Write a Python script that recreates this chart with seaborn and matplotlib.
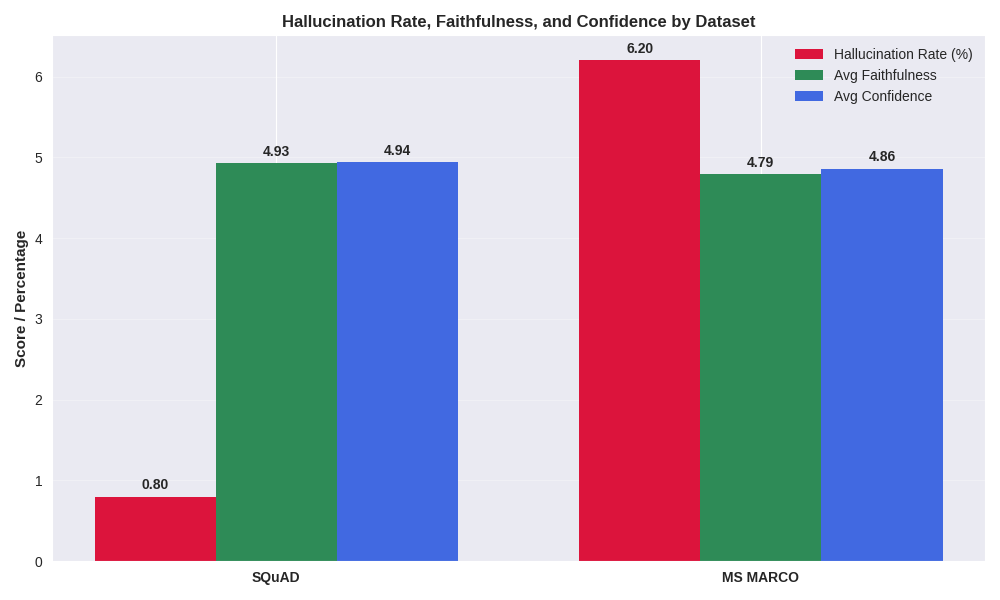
import pandas as pd
import seaborn as sns
import matplotlib
matplotlib.use("Agg")
import matplotlib.pyplot as plt

# --- DATA ---
datasets = ["SQuAD", "MS MARCO"]
metrics = ["Hallucination Rate (%)", "Avg Faithfulness", "Avg Confidence"]
hallucination_rate = [0.80, 6.20]
avg_faithfulness = [4.93, 4.79]
avg_confidence = [4.94, 4.86]
colors = ["#DC143C", "#2E8B57", "#4169E1"]

rows = []
for i, ds in enumerate(datasets):
    for metric, vals in zip(metrics, [hallucination_rate, avg_faithfulness, avg_confidence]):
        rows.append({"Dataset": ds, "Metric": metric, "Value": vals[i]})
df = pd.DataFrame(rows)

# --- STYLE ---
sns.set_style("darkgrid")
plt.rcParams["font.family"] = ["Liberation Sans", "DejaVu Sans"]

fig, ax = plt.subplots(figsize=(10, 6), dpi=100)
sns.barplot(data=df, x="Dataset", y="Value", hue="Metric", hue_order=metrics,
            palette=colors, width=0.75, gap=0, saturation=1, ax=ax,
            errorbar=None, linewidth=0, edgecolor="none")

# value labels
for container in ax.containers:
    ax.bar_label(container, fmt="%.2f", padding=3, fontweight="bold", fontsize=10)

ax.set_title("Hallucination Rate, Faithfulness, and Confidence by Dataset",
             fontsize=12, fontweight="bold")
ax.set_xlabel("")
ax.set_ylabel("Score / Percentage", fontsize=11, fontweight="bold")
for lbl in ax.get_xticklabels():
    lbl.set_fontweight("bold")
ax.tick_params(axis="both", labelsize=10)
ax.set_xlim(-0.4625, 1.4625)
ax.xaxis.grid(True)
ax.yaxis.grid(True, alpha=0.3)
ax.set_axisbelow(True)
ax.legend(loc="upper right", fontsize=10, title=None, frameon=False)

plt.tight_layout()
plt.savefig("out.png")
